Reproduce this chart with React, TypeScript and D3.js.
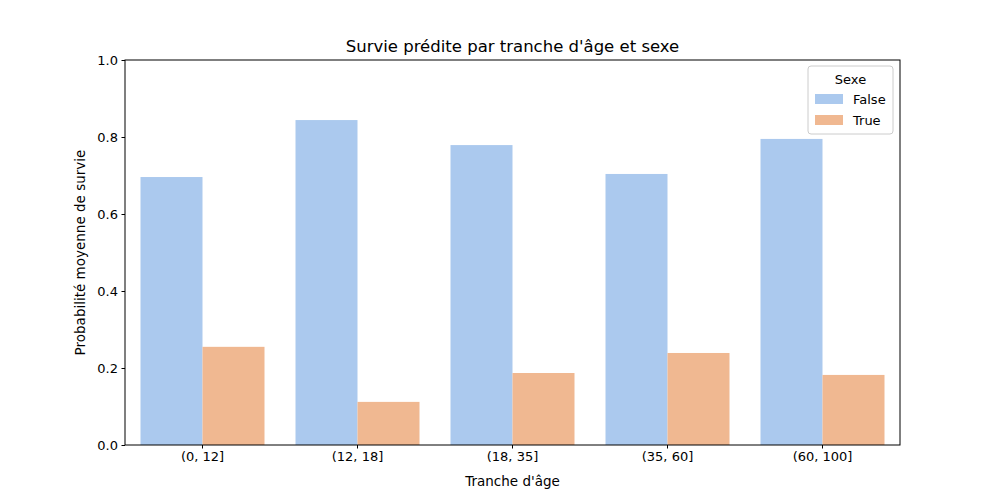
import { useRef, useEffect } from "react";
import * as d3 from "d3";

const width = 1000;
const height = 500;
const margin = { top: 60, right: 100, bottom: 55, left: 125 };

const categories = ["(0, 12]", "(12, 18]", "(18, 35]", "(35, 60]", "(60, 100]"];
const series = ["False", "True"];
const valuesFalse = [0.696, 0.844, 0.779, 0.704, 0.795];
const valuesTrue = [0.255, 0.112, 0.187, 0.239, 0.182];
const yTicks = [0, 0.2, 0.4, 0.6, 0.8, 1.0];
const colors = ["#abc9ee", "#f0b891"];

const App = () => {
  const svgRef = useRef<SVGSVGElement | null>(null);

  useEffect(() => {
    if (!svgRef.current) return;
    const svg = d3.select(svgRef.current);
    svg.selectAll("*").remove();
    const font = "DejaVu Sans, sans-serif";

    const x = d3.scaleBand().domain(categories).range([margin.left, width - margin.right]).paddingInner(0.2).paddingOuter(0.1);
    const x1 = d3.scaleBand().domain(series).range([0, x.bandwidth()]);
    const y = d3.scaleLinear().domain([0, 1]).range([height - margin.bottom, margin.top]);

    const rows = [valuesFalse, valuesTrue];
    series.forEach((s, si) => {
      svg.append("g").selectAll("rect").data(categories).enter().append("rect")
        .attr("x", (c) => (x(c) as number) + (x1(s) as number))
        .attr("width", x1.bandwidth())
        .attr("y", (_, i) => y(rows[si][i]))
        .attr("height", (_, i) => y(0) - y(rows[si][i]))
        .attr("fill", colors[si]);
    });

    const gy = svg.append("g").attr("transform", `translate(${margin.left},0)`)
      .call(d3.axisLeft(y).tickValues(yTicks).tickFormat(d3.format(".1f")).tickSize(3.5).tickPadding(3.5));
    const gx = svg.append("g").attr("transform", `translate(0,${height - margin.bottom})`)
      .call(d3.axisBottom(x).tickSize(3.5).tickPadding(3.5));
    [gx, gy].forEach((g) => {
      g.select(".domain").remove();
      g.selectAll("text").attr("font-family", font).attr("font-size", 13).attr("fill", "#000");
      g.selectAll("line").attr("stroke", "#000");
    });

    svg.append("rect").attr("x", margin.left).attr("y", margin.top)
      .attr("width", width - margin.left - margin.right).attr("height", height - margin.top - margin.bottom)
      .attr("fill", "none").attr("stroke", "#000").attr("stroke-width", 1);

    svg.append("text").attr("x", (margin.left + width - margin.right) / 2).attr("y", 52)
      .attr("text-anchor", "middle").attr("font-family", font).attr("font-size", 16.5).text("Survie prédite par tranche d'âge et sexe");
    svg.append("text").attr("x", (margin.left + width - margin.right) / 2).attr("y", 486)
      .attr("text-anchor", "middle").attr("font-family", font).attr("font-size", 13.5).text("Tranche d'âge");
    svg.append("text").attr("transform", `translate(85,${(margin.top + height - margin.bottom) / 2}) rotate(-90)`)
      .attr("text-anchor", "middle").attr("font-family", font).attr("font-size", 13.5).text("Probabilité moyenne de survie");

    const lg = svg.append("g").attr("transform", "translate(808,66)");
    lg.append("rect").attr("width", 85).attr("height", 68).attr("rx", 3)
      .attr("fill", "#fff").attr("fill-opacity", 0.8).attr("stroke", "#ccc");
    lg.append("text").attr("x", 42.5).attr("y", 18).attr("text-anchor", "middle")
      .attr("font-family", font).attr("font-size", 13).text("Sexe");
    series.forEach((s, i) => {
      lg.append("rect").attr("x", 7).attr("y", 28 + i * 21).attr("width", 28).attr("height", 10).attr("fill", colors[i]);
      lg.append("text").attr("x", 45).attr("y", 38 + i * 21).attr("font-family", font).attr("font-size", 13).text(s);
    });
  }, []);

  return (
    <svg ref={svgRef} width={width} height={height} viewBox={`0 0 ${width} ${height}`}
      style={{ position: "absolute", top: 0, left: 0, background: "#fff" }} />
  );
};

export default App;
